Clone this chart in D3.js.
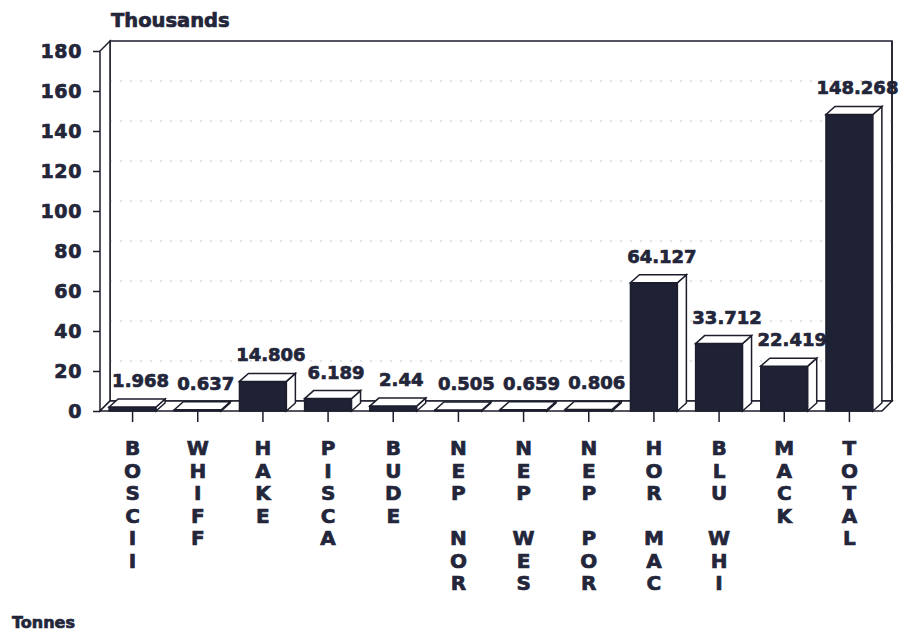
<!DOCTYPE html>
<html>
<head>
<meta charset="utf-8">
<script src="https://cdn.jsdelivr.net/npm/d3@7"></script>
<style>
  html, body { margin: 0; padding: 0; background: #fff; }
  svg { display: block; }
  text { font-family: "DejaVu Sans", sans-serif; font-weight: bold; fill: #23263a; stroke: #23263a; stroke-width: 0.7px; }
</style>
</head>
<body>
<svg id="chart" width="909" height="635"></svg>
<script>
// Landings by species (thousand tonnes)
const categories = ["BOSCII", "WHIFF", "HAKE", "PISCA", "BUDE", "NEP NOR", "NEP WES", "NEP POR", "HOR MAC", "BLU WHI", "MACK", "TOTAL"];
const values = [1.968, 0.637, 14.806, 6.189, 2.44, 0.505, 0.659, 0.806, 64.127, 33.712, 22.419, 148.268];
const valueLabels = ["1.968", "0.637", "14.806", "6.189", "2.44", "0.505", "0.659", "0.806", "64.127", "33.712", "22.419", "148.268"];
const yTicks = [0, 20, 40, 60, 80, 100, 120, 140, 160, 180];

const ink = "#1c1e2c";
const barFill = "#1f2235";

const svg = d3.select("#chart");

// plot frame
const left = 100, right = 882, baseY = 411, topY = 51;
const DX = 10, DY = 10;      // depth of the walls / floor
const BX = 9, BY = 8;        // depth of each bar

const x = d3.scaleBand().domain(categories).range([left, right]).paddingInner(0.28).paddingOuter(0.14);
const y = d3.scaleLinear().domain([0, 180]).range([baseY, topY]);

const line = d3.line();

// back wall
svg.append("rect")
  .attr("x", left + DX).attr("y", y(180) - DY)
  .attr("width", right - left).attr("height", y(0) - y(180))
  .attr("fill", "#fff").attr("stroke", ink).attr("stroke-width", 1.5);

// dotted grid on the back wall
svg.append("g").selectAll("line")
  .data(yTicks.filter(t => t > 0 && t < 180))
  .join("line")
  .attr("x1", left + DX).attr("x2", right + DX)
  .attr("y1", d => y(d) - DY).attr("y2", d => y(d) - DY)
  .attr("stroke", "#c4c6cc").attr("stroke-width", 1).attr("stroke-dasharray", "2,8");

// left wall
svg.append("path")
  .attr("d", line([[left, y(0)], [left, y(180)], [left + DX, y(180) - DY], [left + DX, y(0) - DY]]) + "Z")
  .attr("fill", "#fff").attr("stroke", ink).attr("stroke-width", 1.5);

// floor
svg.append("path")
  .attr("d", line([[left, y(0)], [left + DX, y(0) - DY], [right + DX, y(0) - DY], [right, y(0)]]) + "Z")
  .attr("fill", "#fff").attr("stroke", ink).attr("stroke-width", 1.5);

// y axis
const yAxis = svg.append("g")
  .attr("transform", `translate(${left},0)`)
  .call(d3.axisLeft(y).tickValues(yTicks).tickSize(7).tickPadding(11));
yAxis.select(".domain").remove();
yAxis.selectAll(".tick line").attr("stroke", ink).attr("stroke-width", 1.5);
yAxis.selectAll(".tick text")
  .attr("font-size", 19).attr("letter-spacing", "0.6px")
  .attr("font-family", "DejaVu Sans, sans-serif").attr("font-weight", "bold")
  .attr("fill", "#23263a");

// x axis ticks and stacked category labels
const xAxis = svg.append("g")
  .attr("transform", `translate(0,${baseY})`)
  .call(d3.axisBottom(x).tickSize(11).tickFormat(""));
xAxis.select(".domain").remove();
xAxis.selectAll(".tick line").attr("stroke", ink).attr("stroke-width", 1.5);
xAxis.selectAll(".tick").each(function (d) {
  const t = d3.select(this).append("text")
    .attr("text-anchor", "middle")
    .attr("font-size", 20)
    .attr("font-family", "DejaVu Sans, sans-serif").attr("font-weight", "bold")
    .attr("fill", "#23263a");
  d.split("").forEach((ch, i) => {
    t.append("tspan").attr("x", 0).attr("y", 44 + i * 22.5).text(ch === " " ? "\u00a0" : ch);
  });
});

// bars
const bars = svg.append("g").selectAll("g")
  .data(categories.map((c, i) => ({ c, v: values[i], label: valueLabels[i] })))
  .join("g");

bars.each(function (d) {
  const g = d3.select(this);
  const x0 = x(d.c), w = x.bandwidth();
  const yt = y(d.v), yb = y(0);
  // front face
  g.append("path")
    .attr("d", line([[x0, yb], [x0, yt], [x0 + w, yt], [x0 + w, yb]]) + "Z")
    .attr("fill", barFill).attr("stroke", ink).attr("stroke-width", 1.5);
  // side face
  g.append("path")
    .attr("d", line([[x0 + w, yb], [x0 + w + BX, yb - BY], [x0 + w + BX, yt - BY], [x0 + w, yt]]) + "Z")
    .attr("fill", "#fff").attr("stroke", ink).attr("stroke-width", 1.5);
  // top face
  g.append("path")
    .attr("d", line([[x0, yt], [x0 + BX, yt - BY], [x0 + w + BX, yt - BY], [x0 + w, yt]]) + "Z")
    .attr("fill", "#fff").attr("stroke", ink).attr("stroke-width", 1.5);
});

// value labels
bars.append("text")
  .attr("x", d => x(d.c) + x.bandwidth() / 2 + 8)
  .attr("y", d => y(d.v) - BY - 12)
  .attr("text-anchor", "middle")
  .attr("font-size", 18)
  .text(d => d.label);

// right edge of the back wall drawn over the labels
svg.append("line")
  .attr("x1", right + DX).attr("x2", right + DX)
  .attr("y1", y(180) - DY).attr("y2", y(0) - DY)
  .attr("stroke", ink).attr("stroke-width", 1.5);

// unit captions
svg.append("text").attr("x", 111).attr("y", 27).attr("font-size", 19.5).text("Thousands");
svg.append("text").attr("x", 12).attr("y", 628).attr("font-size", 16).text("Tonnes");
</script>
</body>
</html>
